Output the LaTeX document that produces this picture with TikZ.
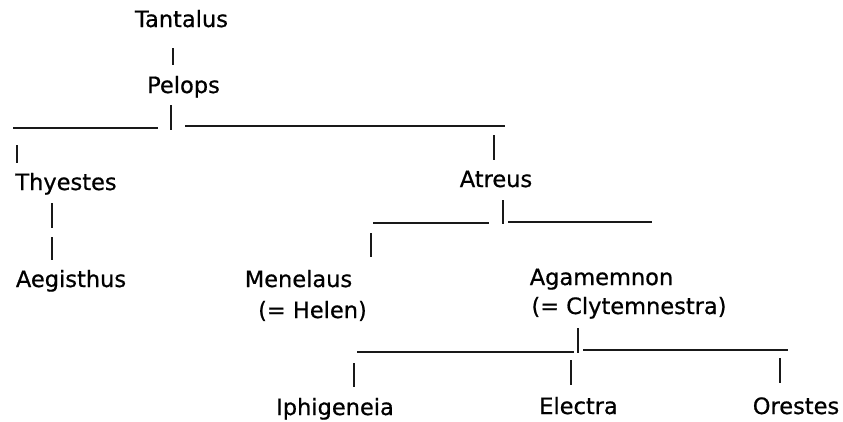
\documentclass[tikz,border=0pt]{standalone}
\usepackage{fontspec}
\setmainfont{DejaVu Sans}
\newfontfamily\namefont{DejaVu Sans}[FakeBold=0.7]
\begin{document}
\begin{tikzpicture}[x=1pt,y=-1pt,
  person/.style={inner sep=0pt, anchor=base, font=\namefont\fontsize{22.5}{27}\selectfont, text=black},
  bar/.style={line width=1.9pt, black!90},
  rule/.style={line width=1.4pt, black!90}]
\useasboundingbox (0,0) rectangle (843,421);
% names
\node[person] (tantalus) at (181.5,27) {Tantalus};
\node[person] (pelops) at (183.5,93) {Pelops};
\node[person] (thyestes) at (66,190) {Thyestes};
\node[person] (aegisthus) at (71,287) {Aegisthus};
\node[person] (atreus) at (496,187) {Atreus};
\node[person] (menelaus) at (298.5,287) {Menelaus};
\node[person] (helen) at (312.5,318) {(= Helen)};
\node[person] (agamemnon) at (601.5,285) {Agamemnon};
\node[person] (clyt) at (629,314) {(= Clytemnestra)};
\node[person] (iphi) at (335,415) {Iphigeneia};
\node[person] (electra) at (578.5,414) {Electra};
\node[person] (orestes) at (796,414) {Orestes};
% coordinates
\coordinate (t1) at (173,48); \coordinate (t2) at (173,65);
\coordinate (p1) at (171,105); \coordinate (p2) at (171,130);
\coordinate (pl1) at (13,128); \coordinate (pl2) at (158,128);
\coordinate (pr1) at (185,126); \coordinate (pr2) at (505,126);
\coordinate (th1) at (17,145); \coordinate (th2) at (17,163);
\coordinate (at1) at (494,135); \coordinate (at2) at (494,160);
\coordinate (ae1) at (52,203); \coordinate (ae2) at (52,228);
\coordinate (ae3) at (52,237); \coordinate (ae4) at (52,260);
\coordinate (ab1) at (503,200); \coordinate (ab2) at (503,224);
\coordinate (al1) at (373,223); \coordinate (al2) at (489,223);
\coordinate (ar1) at (508,222); \coordinate (ar2) at (652,222);
\coordinate (me1) at (371,233); \coordinate (me2) at (371,257);
\coordinate (ag1) at (578,328); \coordinate (ag2) at (578,353);
\coordinate (gl1) at (357,352); \coordinate (gl2) at (574,352);
\coordinate (gr1) at (583,350); \coordinate (gr2) at (788,350);
\coordinate (ip1) at (354,363); \coordinate (ip2) at (354,387);
\coordinate (el1) at (571,360); \coordinate (el2) at (571,385);
\coordinate (or1) at (780,358); \coordinate (or2) at (780,383);
% bars
\draw[bar] (t1) -- (t2);
\draw[bar] (p1) -- (p2);
\draw[bar] (th1) -- (th2);
\draw[bar] (at1) -- (at2);
\draw[bar] (ae1) -- (ae2);
\draw[bar] (ae3) -- (ae4);
\draw[bar] (ab1) -- (ab2);
\draw[bar] (me1) -- (me2);
\draw[bar] (ag1) -- (ag2);
\draw[bar] (ip1) -- (ip2);
\draw[bar] (el1) -- (el2);
\draw[bar] (or1) -- (or2);
% rules
\draw[rule] (pl1) -- (pl2);
\draw[rule] (pr1) -- (pr2);
\draw[rule] (al1) -- (al2);
\draw[rule] (ar1) -- (ar2);
\draw[rule] (gl1) -- (gl2);
\draw[rule] (gr1) -- (gr2);
\end{tikzpicture}
\end{document}
